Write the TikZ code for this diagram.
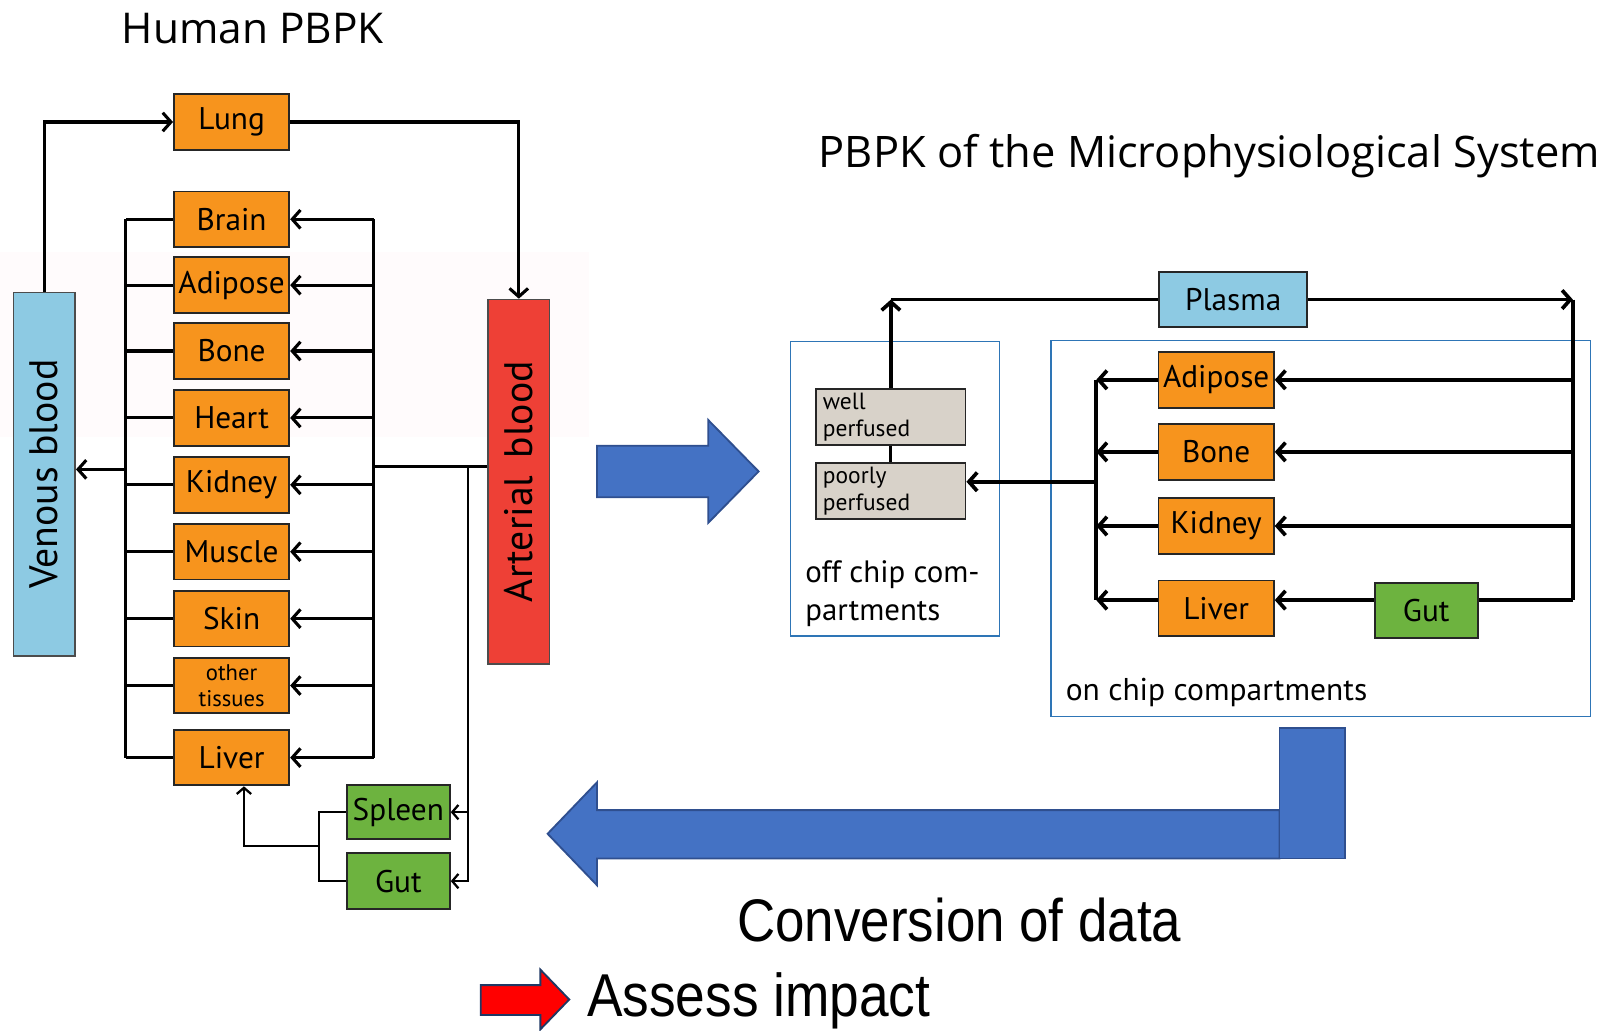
\documentclass[tikz,border=0pt]{standalone}
\usepackage{fontspec}
\setmainfont{Open Sans}
\newfontfamily\boxfont{PT Sans}
\newfontfamily\narrowfont[FakeStretch=0.88]{Liberation Sans}
\usetikzlibrary{arrows.meta}
\definecolor{orgorange}{HTML}{F7941D}
\definecolor{orggreen}{HTML}{6DB33F}
\definecolor{bloodblue}{HTML}{8DCAE3}
\definecolor{bloodred}{HTML}{EE4036}
\definecolor{perfgray}{HTML}{D8D2C9}
\definecolor{bigblue}{HTML}{4472C4}
\definecolor{bigblueedge}{HTML}{2F4F8F}
\definecolor{chipblue}{HTML}{2E75B6}
\definecolor{faintpink}{HTML}{FFFBFC}
\definecolor{navyedge}{HTML}{1F3864}
\begin{document}
\begin{tikzpicture}[x=0.5pt,y=-0.5pt,
  organ/.style={draw=black!85, line width=0.9pt, fill=orgorange, minimum width=56pt, minimum height=27pt, inner sep=0pt, font=\boxfont\fontsize{15.2}{17}\selectfont},
  greenorgan/.style={organ, fill=orggreen, minimum width=50pt},
  bloodbox/.style={draw=black!70, line width=0.8pt, minimum width=30pt, minimum height=176.5pt, inner sep=0pt, font=\boxfont\fontsize{19.3}{21}\selectfont},
  perfbox/.style={draw=black!85, line width=0.9pt, fill=perfgray, minimum width=72.5pt, minimum height=27pt, inner sep=0pt, text width=66pt, align=left, font=\boxfont\fontsize{11.4}{13}\selectfont},
  chipbox/.style={draw=chipblue, line width=0.7pt, inner sep=0pt},
  conn/.style={line width=1.5pt, black},
  rconn/.style={line width=1.8pt, black},
  thinconn/.style={line width=1.1pt, black},
  arr/.style={conn, -{Straight Barb[length=4pt,width=9pt]}},
  rarr/.style={rconn, -{Straight Barb[length=4pt,width=9pt]}},
  thinarr/.style={thinconn, -{Straight Barb[length=3pt,width=7pt]}},
  bigarrow/.style={fill=bigblue, draw=bigblueedge, line width=0.9pt},
  lbl/.style={font=\boxfont\fontsize{15}{18.5}\selectfont, inner sep=0pt},
]
\useasboundingbox (0,0) rectangle (1568,1001);
\fill[faintpink] (0,245) rectangle (572,425);

% titles
\node[anchor=base west, inner sep=0pt, font=\fontsize{20.6}{24}\selectfont] (t1) at (118,42) {Human PBPK};
\node[anchor=base west, inner sep=0pt, font=\fontsize{21.1}{24}\selectfont] (t2) at (795,163) {PBPK of the Microphysiological System};

% left section
\node[organ] (lung) at (225,118.5) {Lung};
\node[organ] (brain) at (225,213) {Brain};
\node[organ] (adipose) at (225,277) {Adipose};
\node[organ] (bone) at (225,341) {Bone};
\node[organ] (heart) at (225,406) {Heart};
\node[organ] (kidney) at (225,471) {Kidney};
\node[organ] (muscle) at (225,536) {Muscle};
\node[organ] (skin) at (225,601) {Skin};
\node[organ, align=center, font=\boxfont\fontsize{11}{12.5}\selectfont] (other) at (225,666) {other\\tissues};
\node[organ] (liver) at (225,736) {Liver};
\node[greenorgan, minimum height=26pt] (spleen) at (387,789) {Spleen};
\node[greenorgan] (gut) at (387,856) {Gut};

\node[bloodbox, fill=bloodblue] (venous) at (43,460.5) {\rotatebox{90}{Venous blood}};
\node[bloodbox, fill=bloodred, minimum height=177pt] (arterial) at (504,468) {\rotatebox{90}{Arterial\ \,blood}};

\draw[arr] (venous.north) |- (lung.west);
\draw[arr] (lung.east) -| (arterial.north);

\coordinate (lbus) at (122,0);
\coordinate (rbus) at (363,0);
\draw[conn] (brain.west -| lbus) -- (liver.west -| lbus);
\draw[conn] (brain.east -| rbus) -- (liver.east -| rbus);
\foreach \n in {brain,adipose,bone,heart,kidney,muscle,skin,other,liver}{
  \draw[conn] (\n.west) -- (\n.west -| lbus);
  \draw[arr] (\n.east -| rbus) -- (\n.east);
}
\coordinate (vj) at (122,456);
\draw[arr] (vj) -- (vj -| venous.east);
\coordinate (aj) at (363,453);
\draw[conn] (aj) -- (aj -| arterial.west);
\coordinate (sj) at (455,453);
\draw[thinarr] (sj) |- (spleen.east);
\draw[thinarr] (sj) |- (gut.east);
\coordinate (sgj) at (310,822);
\draw[thinconn] (spleen.west) -| (sgj);
\draw[thinconn] (gut.west) -| (sgj);
\draw[thinarr] (sgj) -| ([xshift=6pt]liver.south);

% big arrows
\draw[bigarrow] (580,433) -- (688,433) -- (688,408) -- (737,458) -- (688,508) -- (688,483) -- (580,483) -- cycle;
\draw[bigarrow] (1243,787) -- (580,787) -- (580,760) -- (532,810) -- (580,860) -- (580,834) -- (1243,834) -- cycle;
\draw[bigarrow] (1243,707) rectangle (1307,834);
\draw[fill=red, draw=navyedge, line width=0.9pt] (467,957) -- (525,957) -- (525,942) -- (553,971) -- (525,1000) -- (525,986) -- (467,986) -- cycle;

\node[anchor=base, inner sep=0pt, font=\narrowfont\fontsize{29.2}{32}\selectfont] (conv) at (932,915) {Conversion of data};
\node[anchor=base west, inner sep=0pt, font=\narrowfont\fontsize{29.4}{32}\selectfont] (assess) at (570,988) {Assess impact};

% right section
\node[chipbox, minimum width=101.5pt, minimum height=143pt] (offchip) at (869.5,475) {};
\node[chipbox, minimum width=262pt, minimum height=182.5pt] (onchip) at (1283,513.5) {};
\node[lbl, anchor=west, align=left] (offlbl) at (782,577) {off chip com-\\partments};
\node[lbl, anchor=west, font=\boxfont\fontsize{15.3}{18}\selectfont] (onlbl) at (1035,673) {on chip compartments};

\node[organ, fill=bloodblue, minimum width=72pt] (plasma) at (1198,291) {Plasma};
\node[perfbox] (well) at (865.5,405) {well\\perfused};
\node[perfbox] (poorly) at (865.5,477) {poorly\\perfused};
\node[organ] (radipose) at (1181.5,369) {Adipose};
\node[organ] (rbone) at (1181.5,439) {Bone};
\node[organ] (rkidney) at (1181.5,511) {Kidney};
\node[organ] (rliver) at (1181.5,591) {Liver};
\node[greenorgan] (rgut) at (1385.5,593) {Gut};

\coordinate (rrbus) at (1528,0);
\coordinate (lrbus) at (1065,0);
\coordinate (lgrow) at (0,583);
\draw[rarr] (well.north) -- (well.north |- plasma.west);
\draw[rconn] (well.north |- plasma.west) -- (plasma.west);
\draw[conn] (well.south) -- (poorly.north);
\draw[rarr] (plasma.east) -- (plasma.east -| rrbus);
\draw[rconn] (plasma.east -| rrbus) -- (lgrow -| rrbus);
\draw[rconn] (radipose.west -| lrbus) -- (lgrow -| lrbus);
\foreach \n in {radipose,rbone,rkidney}{
  \draw[rarr] (\n.east -| rrbus) -- (\n.east);
  \draw[rarr] (\n.west) -- (\n.west -| lrbus);
}
\draw[rarr] (rgut.west |- lgrow) -- (rliver.east |- lgrow);
\draw[rconn] (rgut.east |- lgrow) -- (lgrow -| rrbus);
\draw[rarr] (rliver.west |- lgrow) -- (lgrow -| lrbus);
\coordinate (pj) at (1065,468);
\draw[rarr] (pj) -- (pj -| poorly.east);
\end{tikzpicture}
\end{document}
